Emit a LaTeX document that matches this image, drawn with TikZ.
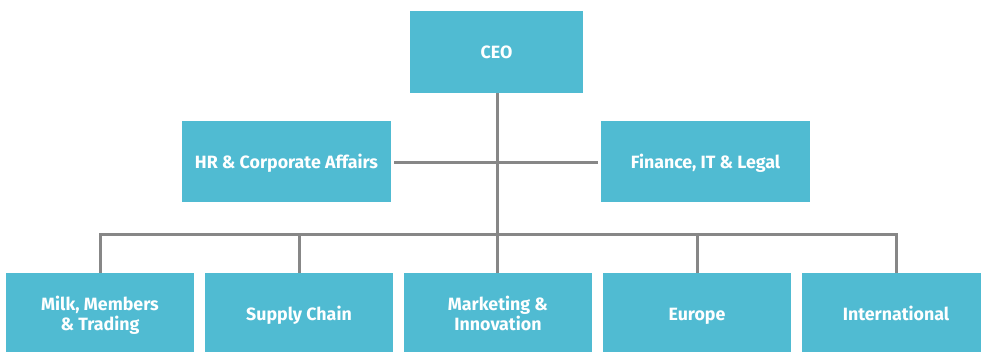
\documentclass[tikz,border=0pt]{standalone}
\usepackage{fontspec}
\setmainfont{Fira Sans}
\definecolor{boxblue}{HTML}{50BBD2}
\definecolor{linegray}{HTML}{878787}
\newcommand{\orgtext}[1]{\raisebox{-2.5pt}[\height][\depth]{\begin{tabular}{@{}c@{}}#1\end{tabular}}}
\begin{document}
\begin{tikzpicture}[x=1pt,y=-1pt,
  orgbox/.style={fill=boxblue,draw=none,text=white,font=\bfseries\fontsize{17.8}{20.5}\selectfont,inner sep=0pt,anchor=center},
  topbox/.style={orgbox,minimum width=173pt,minimum height=82pt},
  midbox/.style={orgbox,minimum width=209pt,minimum height=81pt},
  lowbox/.style={orgbox,minimum width=188pt,minimum height=82pt},
  link/.style={draw=linegray,line width=3pt}]
\useasboundingbox (0,0) rectangle (981,351);
\clip (0,0) rectangle (981,351);
\node[topbox] (ceo) at (496.5,52) {\orgtext{CEO}};
\node[midbox] (hr) at (286.5,161.5) {\orgtext{HR \& Corporate Affairs}};
\node[midbox] (fin) at (705.5,161.5) {\orgtext{Finance, IT \& Legal}};
\node[lowbox] (b1) at (100,314) {\orgtext{Milk, Members\\\& Trading}};
\node[lowbox] (b2) at (299,314) {\orgtext{Supply Chain}};
\node[lowbox] (b3) at (498,314) {\orgtext{Marketing \&\\Innovation}};
\node[lowbox] (b4) at (697,314) {\orgtext{Europe}};
\node[lowbox] (b5) at (896,314) {\orgtext{International}};
\coordinate (bus) at (497,234);
\coordinate (mid) at (497,162);
\draw[link] (ceo.south -| bus) -- (bus);
\draw[link,shorten <=3pt,shorten >=3pt] (hr.east |- mid) -- (fin.west |- mid);
\draw[link] (b1.north) -- (b1.north |- bus) -- (b5.north |- bus) -- (b5.north);
\draw[link] (b2.north) -- (b2.north |- bus);
\draw[link] (b3.north -| bus) -- (bus);
\draw[link] (b4.north) -- (b4.north |- bus);
\end{tikzpicture}
\end{document}
